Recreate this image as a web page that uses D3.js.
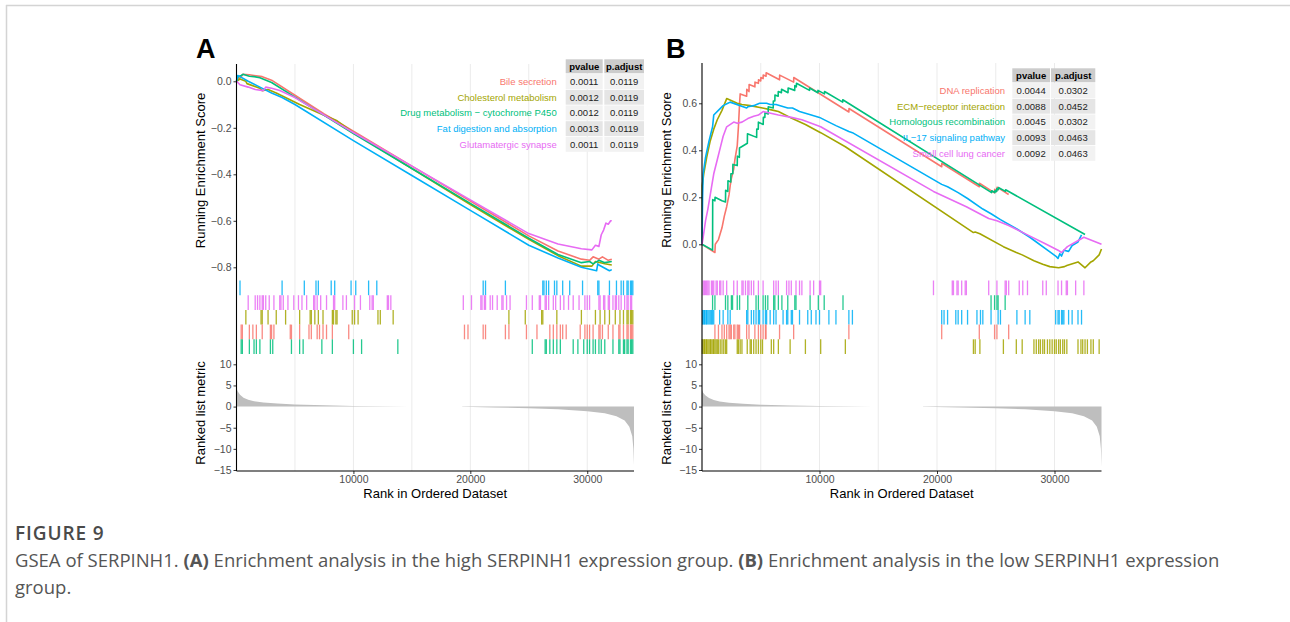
<!DOCTYPE html>
<html>
<head>
<meta charset="utf-8">
<script src="https://cdn.jsdelivr.net/npm/d3@7"></script>
<style>
  body { margin: 0; background: #fff; }
  svg { display: block; }
</style>
</head>
<body>
<div id="chart"></div>
<script>
// ======================================================
//   GSEA of SERPINH1 — two gseaplot2-style panels
// ======================================================

// ---------- shared ----------
const colors = ["#F8766D", "#A3A500", "#00BF7D", "#00B0F6", "#E76BF3"];
const rankMax = 34000;
const xTicks = [10000, 20000, 30000];
const gridRanks = [5000, 10000, 15000, 20000, 25000, 30000];
const metricTicks = [10, 5, 0, -5, -10, -15];

// ---------- panel A : high expression ----------
const namesA = ["Bile secretion", "Cholesterol metabolism", "Drug metabolism \u2212 cytochrome P450",
  "Fat digestion and absorption", "Glutamatergic synapse"];
const pvalA = ["0.0011", "0.0012", "0.0012", "0.0013", "0.0011"];
const padjA = ["0.0119", "0.0119", "0.0119", "0.0119", "0.0119"];
const esTicksA = [0, -0.2, -0.4, -0.6, -0.8];
const rugOrderA = [3, 4, 1, 0, 2];

const esA_bile = [[0,0],[400,0.02],[550,0.03],[1100,0.028],[1500,0.025],[2200,0.02],[3000,0.005],[5000,-0.06],
  [7500,-0.14],[10000,-0.215],[15000,-0.365],[20000,-0.515],[25000,-0.665],[27500,-0.73],[29500,-0.765],
  [30200,-0.77],[30500,-0.755],[31000,-0.765],[31300,-0.755],[31800,-0.77],[32100,-0.765]];
const esA_chol = [[0,0],[300,0.01],[800,0.0],[900,-0.01],[2000,-0.03],[2200,-0.04],[2700,-0.035],[3400,-0.05],
  [5400,-0.1],[7000,-0.135],[8600,-0.17],[10000,-0.22],[15000,-0.375],[20000,-0.53],[25000,-0.68],
  [27500,-0.75],[29500,-0.795],[30400,-0.795],[30700,-0.775],[31500,-0.785],[32100,-0.79]];
const esA_drug = [[0,0],[150,0.02],[400,0.025],[550,0.03],[1100,0.022],[1500,0.02],[2000,0.015],[3000,-0.005],
  [5000,-0.068],[10000,-0.225],[15000,-0.375],[20000,-0.525],[25000,-0.675],[27500,-0.745],[29500,-0.78],
  [30200,-0.775],[30500,-0.785],[31000,-0.77],[31500,-0.78],[32100,-0.775]];
const esA_fat = [[0,0],[100,0.025],[300,0.02],[1000,0.0],[2000,-0.025],[3000,-0.05],[3900,-0.07],[5000,-0.1],
  [10000,-0.255],[15000,-0.405],[20000,-0.555],[25000,-0.705],[27500,-0.76],[29500,-0.8],[30800,-0.815],
  [30900,-0.785],[31000,-0.79],[31900,-0.815],[32100,-0.81]];
const esA_glut = [[0,0],[300,-0.015],[1000,-0.025],[1600,-0.035],[2300,-0.04],[2500,-0.025],[3000,-0.03],
  [3700,-0.04],[5000,-0.07],[10000,-0.22],[15000,-0.365],[20000,-0.51],[25000,-0.655],[27500,-0.7],
  [29500,-0.72],[30400,-0.725],[30700,-0.705],[31000,-0.71],[31200,-0.66],[31400,-0.64],[31600,-0.61],
  [31800,-0.615],[32000,-0.6],[32100,-0.6]];

const hitsA_bile = [400,500,1100,1400,1700,2200,2900,3000,3200,4600,4700,5400,6200,6400,6900,7100,7400,7700,8200,
  9600,19500,19800,21100,21300,23000,23300,24800,25700,26800,27100,27400,27700,27900,28200,29400,29800,30000,
  30200,30500,31000,31100,31300,31800,32200,32700,32800,33100,33400,33500,33700,33800,33900];
const hitsA_chol = [800,2100,2200,2700,3400,4200,5400,6300,6400,6700,7000,7400,8200,8300,8500,8600,9900,10100,
  10400,12100,12300,13400,23300,24700,26100,26200,27400,29500,30700,31100,31500,31900,32400,32800,33100,33400,
  33500,33700,33800,33900];
const hitsA_drug = [400,500,1100,1500,1700,2000,2900,3100,4700,5400,5700,7300,8200,10000,10700,13800,25300,
  26400,26500,26800,27100,27400,27700,28800,29200,29700,30000,30200,30500,30700,31000,31200,31500,32200,32700,
  32800,33100,33200,33400,33500,33700,33800,33900];
const hitsA_fat = [300,3900,5800,6800,7000,8100,8400,9800,10200,11300,12000,21100,21300,23000,26200,26300,
  26500,26700,27200,27400,27900,28500,29600,30900,31000,31900,32500,32900,33100,33400,33500,33700,33800,33900];
const hitsA_glut = [1000,1600,1800,2000,2200,2300,2500,2800,3200,3700,3800,4000,4400,4900,5300,5600,6000,6600,
  6700,6900,7200,7700,8300,8400,9100,9400,10100,10600,11400,11600,11700,12900,13000,13200,19400,20100,20900,
  21000,21200,21300,21700,21900,22300,22700,22800,23100,23400,24800,25300,25900,26000,26400,26500,26700,27100,
  27300,27700,28000,28400,28800,29300,29800,30000,30200,31000,31100,31400,31500,31800,31900,32200,32400,32500,
  32700,32900,33200,33400,33500,33700,33800];

const metricRankA = [0,100,300,600,1000,1500,2300,3500,5000,7500,10000,12500,14700,14701,19299,19300,22000,
  25000,27500,30000,31500,32500,33200,33600,33850,33950,34000];
const metricValA = [4.4,3.6,2.8,2.1,1.6,1.25,0.95,0.7,0.5,0.3,0.15,0.07,0.02,0,0,-0.03,-0.2,-0.4,-0.65,-1.1,
  -1.6,-2.3,-3.3,-4.8,-7,-10,-13.8];

// ---------- panel B : low expression ----------
const namesB = ["DNA replication", "ECM\u2212receptor interaction", "Homologous recombination",
  "IL\u221217 signaling pathway", "Small cell lung cancer"];
const pvalB = ["0.0044", "0.0088", "0.0045", "0.0093", "0.0092"];
const padjB = ["0.0302", "0.0452", "0.0302", "0.0463", "0.0463"];
const esTicksB = [0, 0.2, 0.4, 0.6];
const rugOrderB = [4, 2, 3, 0, 1];

const esB_dna = [[0,0],[1100,-0.035],[1130,0.0],[1400,0.02],[1700,0.07],[1900,0.12],[2100,0.16],[2300,0.21],
  [2400,0.25],[2500,0.28],[2700,0.32],[2800,0.36],[3000,0.42],[3100,0.5],[3200,0.6],[3250,0.64],[3800,0.63],
  [3810,0.66],[4000,0.65],[4010,0.68],[4500,0.67],[4510,0.69],[4800,0.685],[4810,0.7],[5000,0.695],[5010,0.71],
  [5200,0.705],[5210,0.72],[5450,0.715],[5460,0.73],[6600,0.70],[6610,0.72],[7800,0.69],[7810,0.71],
  [12500,0.563],[12510,0.578],[20400,0.33],[20410,0.345],[23600,0.245],[23610,0.26],[24900,0.219],
  [24910,0.234],[25100,0.228],[25110,0.243],[26100,0.212]];
const esB_ecm = [[0,0],[20,0.25],[150,0.3],[400,0.37],[700,0.44],[1000,0.49],[1300,0.53],[1700,0.57],
  [2100,0.62],[3000,0.6],[3400,0.595],[4100,0.59],[5150,0.58],[6100,0.57],[6500,0.565],[7500,0.54],
  [8800,0.51],[10100,0.475],[12200,0.415],[23100,0.05],[23250,0.052],[23650,0.045],[25650,-0.01],
  [26750,-0.035],[27250,-0.045],[28250,-0.07],[29000,-0.085],[29600,-0.095],[30350,-0.1],[30850,-0.095],
  [31050,-0.09],[32000,-0.075],[32600,-0.1],[33100,-0.075],[33300,-0.07],[33800,-0.045],[34000,-0.02]];
const esB_hom = [[0,0],[900,-0.025],[910,0.19],[1100,0.185],[1110,0.2],[1700,0.185],[2000,0.18],[2010,0.23],
  [2200,0.225],[2210,0.27],[2450,0.265],[2460,0.3],[2620,0.3],[2630,0.34],[3000,0.335],[3010,0.375],
  [3180,0.37],[3190,0.41],[3860,0.43],[3870,0.47],[4650,0.455],[4660,0.49],[4790,0.49],[4800,0.52],
  [5210,0.51],[5220,0.54],[5350,0.54],[5360,0.56],[5630,0.555],[5640,0.585],[6060,0.58],[6070,0.61],
  [6200,0.61],[6210,0.635],[6480,0.63],[6490,0.65],[6760,0.645],[6770,0.66],[7320,0.645],[7330,0.665],
  [7890,0.655],[7900,0.675],[8030,0.67],[8040,0.685],[9150,0.655],[9160,0.665],[9860,0.645],[9870,0.655],
  [10420,0.64],[10430,0.65],[11970,0.605],[11980,0.615],[24650,0.22],[24660,0.228],[24930,0.22],
  [24940,0.228],[25070,0.224],[25080,0.236],[25210,0.232],[25220,0.242],[25830,0.225],[25840,0.232],
  [32600,0.042]];
const esB_il17 = [[0,0],[50,0.2],[100,0.3],[300,0.37],[600,0.44],[900,0.5],[1000,0.55],[1500,0.575],
  [1800,0.59],[2200,0.6],[2400,0.605],[3800,0.58],[3900,0.585],[4400,0.59],[4900,0.6],[5500,0.6],
  [5800,0.595],[6300,0.595],[7300,0.58],[7700,0.58],[8300,0.565],[9300,0.55],[10000,0.54],[10800,0.52],
  [11400,0.505],[12500,0.48],[12800,0.475],[20400,0.255],[20900,0.245],[21800,0.22],[22600,0.195],
  [23900,0.15],[24600,0.13],[25400,0.105],[26800,0.065],[27900,0.03],[30100,-0.05],[30300,-0.06],
  [30450,-0.04],[30600,-0.05],[30800,-0.025],[31200,-0.03],[31500,-0.005],[32000,0.01],[32300,0.04]];
const esB_sclc = [[0,0],[100,0.03],[300,0.1],[500,0.15],[800,0.24],[1000,0.3],[1300,0.36],[1600,0.42],
  [1800,0.46],[2100,0.5],[2700,0.52],[3000,0.515],[3400,0.52],[3900,0.535],[4400,0.545],[4800,0.55],
  [5200,0.565],[6500,0.55],[7600,0.54],[8500,0.53],[10100,0.5],[19700,0.225],[22500,0.16],[24400,0.11],
  [25100,0.1],[26100,0.08],[27700,0.04],[29300,0.0],[30300,-0.025],[30600,-0.035],[31100,-0.01],
  [31800,0.01],[32500,0.03],[34000,0.0]];

const hitsB_dna = [1100,1400,1700,1900,2100,2300,2400,2500,2700,2800,3000,3100,3200,3800,4000,4500,4800,5000,
  5200,5400,5450,6600,7800,12500,20400,23600,24900,25100,26100];
const hitsB_ecm = [20,100,200,250,350,400,500,600,700,750,850,950,1000,1100,1200,1300,1400,1550,1700,1850,2000,
  2100,3000,3100,3250,3400,3850,4100,4200,4400,4600,4800,5000,5150,5900,6100,6500,7500,8800,10100,12200,23100,
  23250,23650,25650,26750,27250,28250,28450,28650,28800,29000,29150,29400,29600,29800,30000,30150,30350,30500,
  30700,30850,31050,32000,32250,32400,32600,32800,33100,33300,33800];
const hitsB_hom = [900,1100,2000,2200,2500,2600,3000,3200,3900,4600,4800,5200,5400,5600,6100,6200,6500,6800,
  7300,7900,8000,9200,9900,10400,12000,24600,24900,25100,25200,25800];
const hitsB_il17 = [50,100,200,250,350,400,500,600,700,800,900,1000,1500,1800,2200,2400,3800,3900,4200,4400,
  4600,4800,4900,5200,5400,5500,5800,6100,6300,6900,7200,7300,7600,7700,8300,9000,9300,9700,10000,10800,11400,
  12500,12800,20400,20600,20900,21600,21800,22100,22600,23400,23700,23900,24600,25200,25400,26800,27500,27900,
  30100,30300,30400,30600,30700,30800,31200,31500,32000,32300];
const hitsB_sclc = [100,200,300,400,500,600,800,900,1000,1200,1300,1500,1600,1800,2100,2700,3000,3400,3500,3700,
  3900,4000,4200,4400,4800,5200,6100,6300,6500,7200,7400,7600,8000,8300,8500,9200,9500,10000,10100,19700,21300,
  21400,21700,21800,22100,22400,22500,24400,25100,25800,25900,26100,27000,27300,27700,29000,29300,30300,30600,
  31000,31100,31800,32500];

const metricRankB = [0,100,300,600,1000,1500,2300,3500,5000,7500,10000,12500,14500,14501,18799,18800,22000,
  25000,27500,30000,31500,32500,33200,33600,33850,33950,34000];
const metricValB = [4.0,3.3,2.6,2.0,1.55,1.2,0.9,0.65,0.45,0.28,0.14,0.06,0.02,0,0,-0.03,-0.2,-0.4,-0.65,-1.1,
  -1.6,-2.3,-3.3,-4.8,-7,-10,-14.2];

// ======================================================
//   DRAWING
// ======================================================
const W = 1290, H = 622;
const svg = d3.select("#chart").append("svg").attr("width", W).attr("height", H);
const FONT = "'Liberation Sans', Arial, sans-serif";

// page frame (top + left rule)
svg.append("line").attr("x1", 6).attr("x2", W).attr("y1", 5.5).attr("y2", 5.5)
  .attr("stroke", "#d4d4d4").attr("stroke-width", 1.5);
svg.append("line").attr("x1", 6.5).attr("x2", 6.5).attr("y1", 5).attr("y2", H)
  .attr("stroke", "#d4d4d4").attr("stroke-width", 1.5);

const panels = [
  {
    letter: "A", letterX: 196, x0: 236.5, x1: 634, esTop: 64,
    esDomain: [0, -0.8], esRange: [81.3, 267.3], esTicks: esTicksA,
    curves: [esA_bile, esA_chol, esA_drug, esA_fat, esA_glut],
    hits: [hitsA_bile, hitsA_chol, hitsA_drug, hitsA_fat, hitsA_glut],
    rugOrder: rugOrderA, names: namesA, pval: pvalA, padj: padjA,
    metricRank: metricRankA, metricVal: metricValA,
    table: { labelRight: 556.7, c1: [565.7, 602.7], c2: [604.3, 644], top: 59.3 }
  },
  {
    letter: "B", letterX: 666, x0: 702, x1: 1101.5, esTop: 63,
    esDomain: [0, 0.6], esRange: [244.3, 103.3], esTicks: esTicksB,
    curves: [esB_dna, esB_ecm, esB_hom, esB_il17, esB_sclc],
    hits: [hitsB_dna, hitsB_ecm, hitsB_hom, hitsB_il17, hitsB_sclc],
    rugOrder: rugOrderB, names: namesB, pval: pvalB, padj: padjB,
    metricRank: metricRankB, metricVal: metricValB,
    table: { labelRight: 1005, c1: [1012.3, 1050], c2: [1051, 1095.3], top: 68.3 }
  }
];

panels.forEach(drawPanel);

function drawPanel(p) {
  const g = svg.append("g");
  const x = d3.scaleLinear().domain([0, rankMax]).range([p.x0, p.x1]);
  const yES = d3.scaleLinear().domain(p.esDomain).range(p.esRange);
  const esBottom = 277;
  const rugTop = 280.5, rugH = 14.7;
  const metricTop = 355, metricBottom = 471;
  const yM = d3.scaleLinear().domain([10, -15]).range([364.3, 470]);

  // panel letter
  g.append("text").attr("x", p.letterX).attr("y", 58)
    .attr("font-family", FONT).attr("font-weight", "bold").attr("font-size", 27)
    .attr("fill", "#000").text(p.letter);

  // vertical grid lines in all three strips
  [[p.esTop, esBottom], [esBottom, metricTop], [metricTop, metricBottom]].forEach(([t, b]) => {
    g.append("g").selectAll("line").data(gridRanks).join("line")
      .attr("x1", d => x(d)).attr("x2", d => x(d))
      .attr("y1", t).attr("y2", b)
      .attr("stroke", "#ebebeb").attr("stroke-width", 1);
  });

  // ranked list metric
  const area = d3.area()
    .x((d, i) => x(p.metricRank[i]))
    .y0(yM(0))
    .y1(d => yM(d));
  g.append("path").datum(p.metricVal).attr("d", area).attr("fill", "#bebebe");

  // gene hit rug
  p.rugOrder.forEach((si, row) => {
    const t = rugTop + row * rugH;
    g.append("g").selectAll("line").data(p.hits[si]).join("line")
      .attr("x1", d => x(d)).attr("x2", d => x(d))
      .attr("y1", t).attr("y2", t + rugH)
      .attr("stroke", colors[si]).attr("stroke-width", 1.3).attr("stroke-opacity", 0.85);
  });

  // running enrichment score
  const line = d3.line().x(d => x(d[0])).y(d => yES(d[1]));
  p.curves.forEach((c, i) => {
    g.append("path").datum(c).attr("d", line)
      .attr("fill", "none").attr("stroke", colors[i]).attr("stroke-width", 1.6)
      .attr("stroke-linejoin", "round");
  });

  // axes
  const tickCol = "#4d4d4d";
  const yAxisES = d3.axisLeft(yES).tickValues(p.esTicks).tickFormat(d3.format(".1f")).tickSize(3).tickPadding(2);
  const yAxisM = d3.axisLeft(yM).tickValues(metricTicks).tickFormat(d3.format("d")).tickSize(3).tickPadding(2);
  const xAxis = d3.axisBottom(x).tickValues(xTicks).tickFormat(d3.format("d")).tickSize(3).tickPadding(2);

  [g.append("g").attr("transform", `translate(${p.x0},0)`).call(yAxisES),
   g.append("g").attr("transform", `translate(${p.x0},0)`).call(yAxisM),
   g.append("g").attr("transform", `translate(0,${metricBottom})`).call(xAxis)].forEach(ax => {
    ax.select(".domain").remove();
    ax.selectAll(".tick line").attr("stroke", "#333");
    ax.selectAll(".tick text").attr("fill", tickCol).attr("font-family", FONT).attr("font-size", 10.5);
  });

  g.append("line").attr("x1", p.x0).attr("x2", p.x0).attr("y1", p.esTop).attr("y2", metricBottom)
    .attr("stroke", "#000").attr("stroke-width", 1.1);
  g.append("line").attr("x1", p.x0).attr("x2", p.x1).attr("y1", metricBottom).attr("y2", metricBottom)
    .attr("stroke", "#000").attr("stroke-width", 1.1);

  // axis titles
  const titleX = p.x0 - 36;
  g.append("text").attr("transform", `translate(${titleX},${(p.esTop + esBottom) / 2}) rotate(-90)`)
    .attr("text-anchor", "middle").attr("dy", "0.35em")
    .attr("font-family", FONT).attr("font-size", 13).attr("fill", "#000")
    .text("Running Enrichment Score");
  g.append("text").attr("transform", `translate(${titleX},${(metricTop + metricBottom) / 2}) rotate(-90)`)
    .attr("text-anchor", "middle").attr("dy", "0.35em")
    .attr("font-family", FONT).attr("font-size", 13).attr("fill", "#000")
    .text("Ranked list metric");
  g.append("text").attr("x", (p.x0 + p.x1) / 2).attr("y", 498)
    .attr("text-anchor", "middle")
    .attr("font-family", FONT).attr("font-size", 13).attr("fill", "#000")
    .text("Rank in Ordered Dataset");

  // p-value table
  const tb = p.table, hh = 14, rh = 15.7;
  const tg = g.append("g").attr("font-family", FONT).attr("font-size", 9.5);
  [[tb.c1, "pvalue"], [tb.c2, "p.adjust"]].forEach(([c, label]) => {
    tg.append("rect").attr("x", c[0]).attr("y", tb.top).attr("width", c[1] - c[0]).attr("height", hh)
      .attr("fill", "#cccccc");
    tg.append("text").attr("x", (c[0] + c[1]) / 2).attr("y", tb.top + hh / 2).attr("dy", "0.35em")
      .attr("text-anchor", "middle").attr("font-weight", "bold").attr("fill", "#000").text(label);
  });
  p.names.forEach((name, i) => {
    const top = tb.top + hh + i * rh + 0.8;
    const fill = i % 2 === 0 ? "#f2f2f2" : "#e5e5e5";
    [[tb.c1, p.pval[i]], [tb.c2, p.padj[i]]].forEach(([c, v]) => {
      tg.append("rect").attr("x", c[0]).attr("y", top).attr("width", c[1] - c[0]).attr("height", rh - 0.8)
        .attr("fill", fill);
      tg.append("text").attr("x", (c[0] + c[1]) / 2).attr("y", top + rh / 2).attr("dy", "0.33em")
        .attr("text-anchor", "middle").attr("fill", "#222").text(v);
    });
    tg.append("text").attr("x", tb.labelRight).attr("y", top + rh / 2).attr("dy", "0.33em")
      .attr("text-anchor", "end").attr("fill", colors[i]).text(name);
  });
}

// caption
const cap = svg.append("g").attr("font-family", "'Open Sans', sans-serif").attr("fill", "#555");
cap.append("text").attr("x", 15).attr("y", 540).attr("font-size", 19).attr("font-weight", 600)
  .attr("letter-spacing", 0.9).attr("fill", "#4a4a4a").text("FIGURE 9");
const line1 = cap.append("text").attr("x", 15).attr("y", 567).attr("font-size", 18.5);
line1.append("tspan").text("GSEA of SERPINH1. ");
line1.append("tspan").attr("font-weight", "bold").text("(A)");
line1.append("tspan").text(" Enrichment analysis in the high SERPINH1 expression group. ");
line1.append("tspan").attr("font-weight", "bold").text("(B)");
line1.append("tspan").text(" Enrichment analysis in the low SERPINH1 expression");
cap.append("text").attr("x", 15).attr("y", 594).attr("font-size", 18.5).text("group.");
</script>
</body>
</html>
